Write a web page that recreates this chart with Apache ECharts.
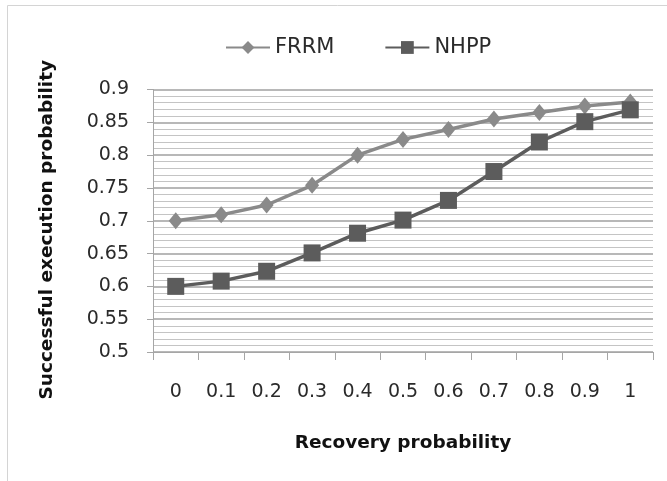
<!DOCTYPE html>
<html>
<head>
<meta charset="utf-8">
<script src="https://cdn.jsdelivr.net/npm/echarts@6/dist/echarts.min.js"></script>
<style>
html,body{margin:0;padding:0;background:#fff;}
#chart{width:667px;height:481px;}
</style>
</head>
<body>
<div id="chart"></div>
<script>
const categories = ['0','0.1','0.2','0.3','0.4','0.5','0.6','0.7','0.8','0.9','1'];
const frrm = [0.700, 0.709, 0.724, 0.754, 0.800, 0.824, 0.839, 0.855, 0.865, 0.875, 0.881];
const nhpp = [0.600, 0.608, 0.623, 0.651, 0.681, 0.701, 0.731, 0.775, 0.820, 0.851, 0.869];
const seriesNames = ['FRRM', 'NHPP'];
const yTicks = { min: 0.5, max: 0.9, interval: 0.05 };

const font = 'DejaVu Sans, sans-serif';
const chart = echarts.init(document.getElementById('chart'));
chart.setOption({
  animation: false,
  backgroundColor: '#fff',
  graphic: [
    { type: 'line', shape: { x1: 7.5, y1: 5.5, x2: 7.5, y2: 481 }, style: { stroke: '#d4d4d4', lineWidth: 1 } },
    { type: 'line', shape: { x1: 7.5, y1: 5.5, x2: 667, y2: 5.5 }, style: { stroke: '#d4d4d4', lineWidth: 1 } }
  ],
  legend: {
    top: 32,
    left: 220,
    itemWidth: 44,
    itemHeight: 16,
    itemGap: 50,
    textStyle: { fontFamily: font, fontSize: 21, color: '#2a2a2a' },
    data: seriesNames
  },
  grid: { left: 153, right: 14, top: 89.5, bottom: 129 },
  xAxis: {
    type: 'category',
    data: categories,
    boundaryGap: true,
    axisLine: { show: true, lineStyle: { color: '#a6a6a6', width: 1 } },
    axisTick: { show: true, length: 8, lineStyle: { color: '#a6a6a6' } },
    axisLabel: { margin: 31, fontFamily: font, fontSize: 19, color: '#2a2a2a' },
    name: 'Recovery probability',
    nameLocation: 'middle',
    nameGap: 82,
    nameTextStyle: { fontFamily: font, fontSize: 18.5, fontWeight: 'bold', color: '#111' }
  },
  yAxis: {
    type: 'value',
    min: yTicks.min,
    max: yTicks.max,
    interval: yTicks.interval,
    axisLine: { show: true, lineStyle: { color: '#a6a6a6', width: 1 } },
    axisTick: { show: true, length: 6, lineStyle: { color: '#a6a6a6' } },
    axisLabel: {
      margin: 24, fontFamily: font, fontSize: 19, color: '#2a2a2a',
      formatter: v => String(+v.toFixed(2))
    },
    splitLine: { show: true, lineStyle: { color: '#a0a0a0', width: 1.5 } },
    minorTick: { show: false, splitNumber: 5 },
    minorSplitLine: { show: true, lineStyle: { color: '#c4c4c4', width: 1.2 } },
    name: 'Successful execution probability',
    nameLocation: 'middle',
    nameGap: 96,
    nameRotate: 90,
    nameTextStyle: { fontFamily: font, fontSize: 18.5, fontWeight: 'bold', color: '#111', padding: [0, 18, 0, 0] }
  },
  series: [
    {
      name: seriesNames[0], type: 'line', data: frrm,
      symbol: 'diamond', symbolSize: [14, 17],
      lineStyle: { color: '#8a8a8a', width: 3.5 },
      itemStyle: { color: '#8a8a8a' }
    },
    {
      name: seriesNames[1], type: 'line', data: nhpp,
      symbol: 'rect', symbolSize: 17,
      lineStyle: { color: '#5c5c5c', width: 3.5 },
      itemStyle: { color: '#5c5c5c' }
    }
  ]
});
</script>
</body>
</html>
